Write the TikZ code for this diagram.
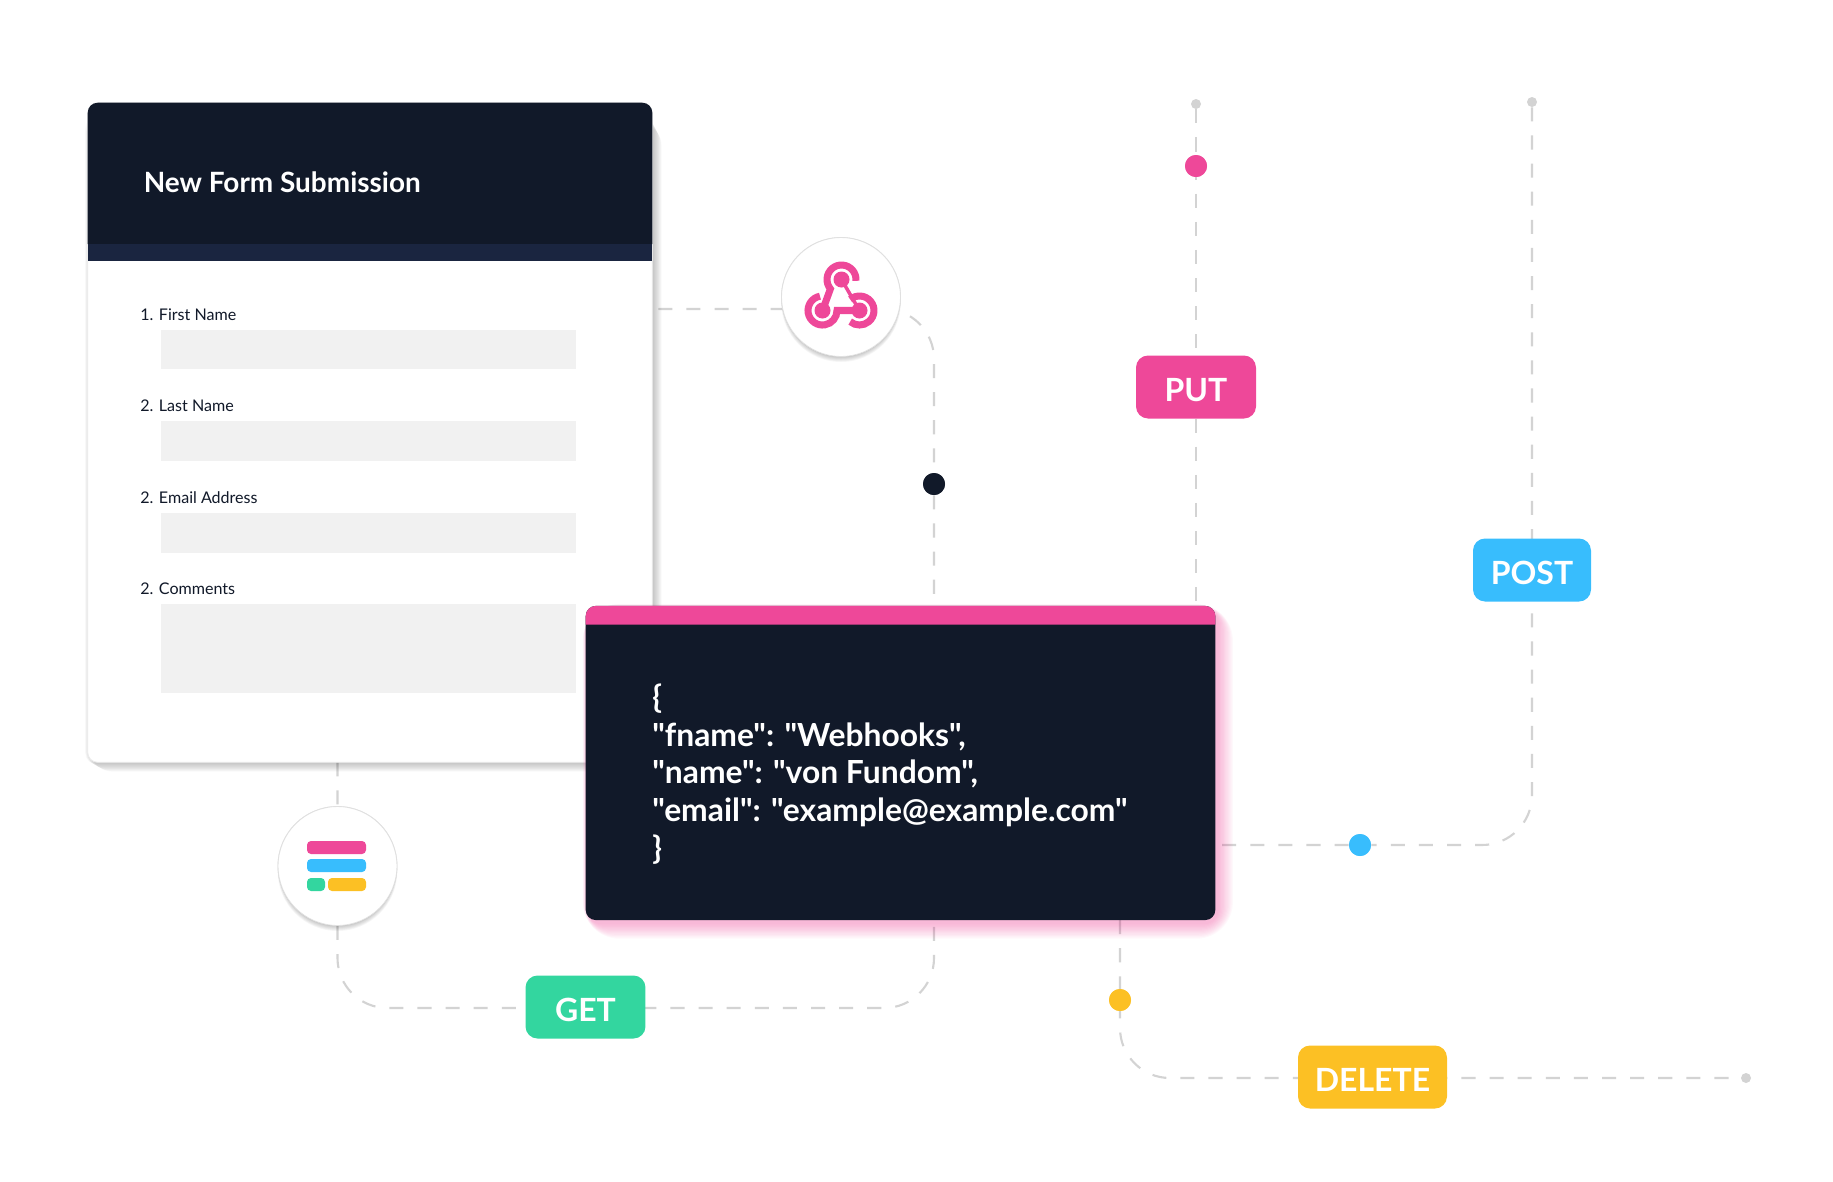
\documentclass[tikz,border=0pt]{standalone}
\usepackage{fontspec}
\setmainfont{Lato}
\newfontfamily\jsonfont{Lato}
\usepackage{tikz}
\usetikzlibrary{arrows.meta,positioning,calc}

\definecolor{navyc}{HTML}{111929}
\definecolor{stripec}{HTML}{1A2540}
\definecolor{fieldc}{HTML}{F1F1F1}
\definecolor{wirec}{HTML}{D3D3D3}
\definecolor{pinkc}{HTML}{EE4899}
\definecolor{bluec}{HTML}{38BDFD}
\definecolor{greenc}{HTML}{33D69F}
\definecolor{yellowc}{HTML}{FCC024}

\tikzset{
    wire/.style={draw=wirec, line width=1.2pt, dash pattern=on 8pt off 8pt, rounded corners=1cm},
    dotnode/.style={circle, fill=#1, inner sep=0pt, minimum size=0.44cm},
    endnode/.style={circle, fill=wirec, inner sep=0pt, minimum size=0.2cm},
    tagnode/.style={rounded corners=0.24cm, fill=#1, text=white, inner sep=0pt, text height=0.58cm, text depth=0pt,
        minimum height=1.26cm, font=\fontsize{18.2}{19}\selectfont\bfseries},
    iconnode/.style={circle, fill=white, draw=black!12, line width=0.5pt, inner sep=0pt, minimum size=2.38cm},
    fieldlabel/.style={anchor=west, inner sep=0pt, text=navyc, font=\fontsize{9.15}{10}\selectfont},
    bar/.style={fill=#1, rounded corners=0.08cm}
}

\begin{document}
\begin{tikzpicture}[x=0.02cm, y=-0.02cm]
    \useasboundingbox (0, 0) rectangle (1833, 1181);

    \coordinate (hookline) at (0, 309);
    \coordinate (formbar) at (0, 244);
    \coordinate (formbarend) at (0, 261);
    \coordinate (codebar) at (0, 624.5);

    % Anchors, drawn later on top
    \node[minimum width=11.28cm, minimum height=13.18cm, inner sep=0pt] (form) at (370, 432.5) {};
    \node[minimum width=12.58cm, minimum height=6.27cm, inner sep=0pt] (code) at (900.5, 763) {};
    \node[iconnode] (hook) at (841, 297) {};
    \node[iconnode] (formicon) at (337.5, 866) {};

    \node[endnode] (putend) at (1196, 104) {};
    \node[endnode] (postend) at (1532, 102) {};
    \node[endnode] (deleteend) at (1746, 1078) {};
    \node[dotnode=pinkc] (putdot) at (1196, 166) {};
    \node[dotnode=navyc] (hookdot) at (934, 484) {};
    \node[dotnode=bluec] (postdot) at (1360, 845) {};
    \node[dotnode=yellowc] (deletedot) at (1120, 1000) {};

    % Connectors
    \draw[wire] ($(form.east |- hookline)+(6, 0)$) -| (hookdot) -- (hookdot |- code.north);
    \draw[wire] (form.south -| formicon) -- (formicon) |- (586, 1008) -| (hookdot |- code.south);
    \draw[wire] (putend) -- (putend |- code.north);
    \draw[wire] (postend) |- (postdot) -- (code.east |- postdot);
    \draw[wire] (code.south -| deletedot) |- (deleteend);

    % Form shadow
    \foreach \i in {1, ..., 12} {
        \fill[black, opacity=0.018, rounded corners=0.2cm+\i*0.02cm]
            ($(form.north west)+(\i*0.5-3, \i*0.6+14)$) rectangle ($(form.south east)+(1+\i*0.7, 1+\i*0.7)$);
    }

    % Form card
    \fill[white, draw=black!8, line width=0.5pt, rounded corners=0.2cm] (form.north west) rectangle (form.south east);
    \fill[navyc] (form.west |- formbar) [rounded corners=0.2cm] -- (form.north west) -- (form.north east) [sharp corners] -- (form.east |- formbar) -- cycle;
    \fill[stripec] (form.west |- formbar) rectangle (form.east |- formbarend);
    \node[anchor=west, inner sep=0pt, text=white, font=\fontsize{15.9}{20}\selectfont\bfseries] (title) at (143.5, 182) {New Form Submission};

    % Fields
    \foreach \y/\h/\n/\t in {330/39/firstfield/1. First Name, 421/40/lastfield/2. Last Name,
            513/40/emailfield/2. Email Address, 604/89/commentfield/2. Comments} {
        \fill[fieldc] (161, \y) rectangle (576, \y+\h);
        \node[fieldlabel] (\n) at (140, \y-15) {\t};
    }

    % Code card
    \foreach \i in {1, ..., 12} {
        \fill[pinkc, opacity=0.04, rounded corners=0.25cm+\i*0.04cm]
            ($(code.north west)+(2-\i*0.4, 3-\i*0.4)$) rectangle ($(code.south east)+(2+\i*1.3, 3+\i*1.3)$);
    }
    \fill[navyc, rounded corners=0.2cm] (code.north west) rectangle (code.south east);
    \fill[pinkc] (code.west |- codebar) [rounded corners=0.2cm] -- (code.north west) -- (code.north east) [sharp corners] -- (code.east |- codebar) -- cycle;
    \node[anchor=west, align=left, text=white, inner sep=0pt, font=\jsonfont\fontsize{18.1}{21.55}\selectfont\bfseries] (json) at (652, 774)
        {\{\\"fname": "Webhooks",\\"name": "von Fundom",\\"email": "example@example.com"\\\}};

    % Icon shadows
    \foreach \c in {hook, formicon} {
        \foreach \i in {1, ..., 8} {
            \fill[black, opacity=0.03] ($(\c)+(0, 2+\i*0.4)$) circle (57+\i*0.35);
        }
        \node[iconnode] at (\c) {};
    }

    % Webhook icon
    \coordinate (hooktop) at (841.5, 279.5);
    \coordinate (hookleft) at (822.5, 310.5);
    \coordinate (hookright) at (859.5, 310.5);
    \begin{scope}[pinkc, line width=4pt]
        \fill (hooktop) circle (8);
        \fill (hookleft) circle (8);
        \fill (hookright) circle (8);
        \draw ($(hooktop)+(5:14.5)$) arc[start angle=5, end angle=-220, radius=14.5] -- (hookleft);
        \draw ($(hookleft)+(-100:14.5)$) arc[start angle=-100, end angle=-360, radius=14.5] -- (hookright);
        \draw ($(hookright)+(-130:14.5)$) arc[start angle=-130, end angle=130, radius=14.5];
        \draw[line width=2pt] (hooktop) -- (hookright);
    \end{scope}

    % Form icon
    \fill[bar=pinkc] (307, 841) rectangle (366, 854);
    \fill[bar=bluec] (307, 859) rectangle (366, 872);
    \fill[bar=greenc] (307, 878) rectangle (325, 891);
    \fill[bar=yellowc] (328, 878) rectangle (366, 891);

    % Tags
    \node[tagnode=greenc, minimum width=2.4cm] (get) at (585.5, 1007) {GET};
    \node[tagnode=pinkc, minimum width=2.4cm] (put) at (1196, 387) {PUT};
    \node[tagnode=bluec, minimum width=2.36cm] (post) at (1532, 570) {POST};
    \node[tagnode=yellowc, minimum width=2.98cm] (delete) at (1372.5, 1077) {DELETE};

    % Dots on top of the wires
    \foreach \d/\c in {putdot/pinkc, hookdot/navyc, postdot/bluec, deletedot/yellowc} {
        \node[dotnode=\c] at (\d) {};
    }
\end{tikzpicture}
\end{document}
